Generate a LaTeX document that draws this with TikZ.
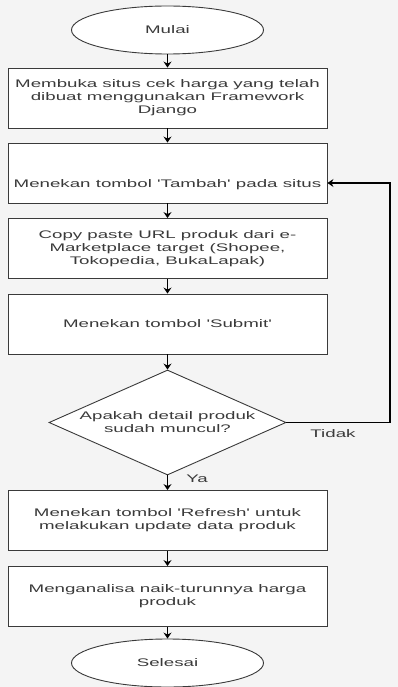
\documentclass[tikz,border=0pt]{standalone}
\usepackage{fontspec}
\newfontfamily\diagfont[FakeStretch=1.7]{Liberation Sans}
\usetikzlibrary{shapes.geometric,arrows.meta,calc}
\definecolor{bgc}{HTML}{F4F4F4}
\definecolor{edge}{HTML}{3A3A3A}
\definecolor{txtc}{HTML}{3A3A3A}
\begin{document}
\begin{tikzpicture}[x=1pt,y=-1pt,
  every node/.style={font=\diagfont\fontsize{11}{13}\selectfont, text=txtc, align=center},
  stepbox/.style={draw=edge, line width=0.9pt, fill=white, rectangle, minimum width=319pt, minimum height=60pt, inner sep=0pt},
  term/.style={draw=edge, line width=0.9pt, fill=white, ellipse, minimum width=192pt, minimum height=48pt, inner sep=0pt},
  decide/.style={draw=edge, line width=0.9pt, fill=white, diamond, aspect=2.26, minimum width=237pt, minimum height=105pt, inner sep=0pt},
  flow/.style={draw=black, line width=1.3pt, -{Stealth[length=6pt,width=8pt]}},
  lbl/.style={inner sep=1pt}]
\fill[bgc] (0,0) rectangle (398,687);
\useasboundingbox (0,0) rectangle (398,687);

\node[term] (start) at (167.5,30) {Mulai};
\node[stepbox] (b1) at (167.5,98) {Membuka situs cek harga yang telah\\dibuat menggunakan Framework\\Django};
\node[stepbox, text height=28pt, text depth=0pt] (b2) at (167.5,173) {Menekan tombol 'Tambah' pada situs};
\node[stepbox] (b3) at (167.5,248.5) {Copy paste URL produk dari e-\\Marketplace target (Shopee,\\Tokopedia, BukaLapak)};
\node[stepbox] (b4) at (167.5,324) {Menekan tombol 'Submit'};
\node[decide] (dia) at (167.5,422.5) {Apakah detail produk\\sudah muncul?};
\node[stepbox] (b5) at (167.5,520.5) {Menekan tombol 'Refresh' untuk\\melakukan update data produk};
\node[stepbox] (b6) at (167.5,596.5) {Menganalisa naik-turunnya harga\\produk};
\node[term] (stop) at (167.5,663) {Selesai};

\coordinate (lp1) at (390,422.5);
\coordinate (lp2) at (390,183);

\draw[flow] (start) -- (b1);
\draw[flow] (b1) -- (b2);
\draw[flow] (b2) -- (b3);
\draw[flow] (b3) -- (b4);
\draw[flow] (b4) -- (dia);
\draw[flow] (dia) -- (b5);
\draw[flow] (b5) -- (b6);
\draw[flow] (b6) -- (stop);
\draw[flow] (dia.east) -- (lp1) -- (lp2) -- (b2.east |- lp2);

\node[lbl] (tidak) at (333,434) {Tidak};
\node[lbl] (ya) at (197,479) {Ya};
\end{tikzpicture}
\end{document}
